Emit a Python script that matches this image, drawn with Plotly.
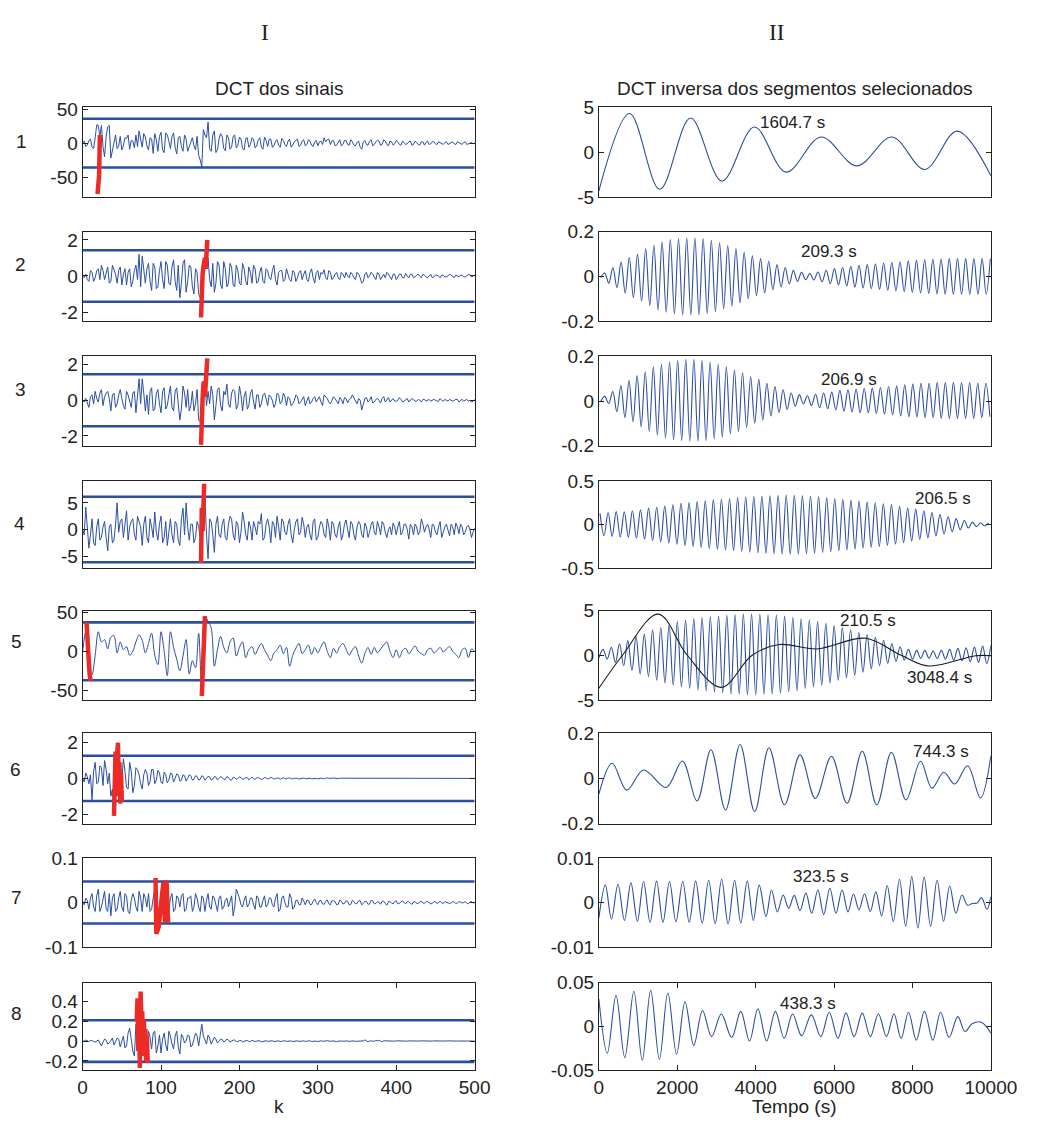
import plotly.graph_objects as go

# ======================= DATA =======================
# Left column: DCT coefficients.
# "_a" lists: samples at k = 0, 4, 8, ..., 500 ; "_b" lists: samples at k = 2, 6, ..., 498
dct1_a = [0, -5, 4, -6, 8, 26, 26, -20, 24, -22,
          5, -8, 10, -4, 7, -9, 3, 12, 18, -6,
          9, -10, 6, 14, -12, 16, -14, 12, -8, 15,
          -16, 10, -12, 6, -5, 8, -10, -18, -35, 12,
          31, -12, 18, -10, 14, -8, 12, -9, 10, -7,
          9, -8, 7, -6, 8, -7, 5, -6, 9, -5,
          6, -4, 5, -6, 4, -5, 6, -3, 4, -5,
          3, -4, 5, -3, 2, -4, 3, 8, 5, -2,
          4, -3, 5, -2, 4, -3, 2, -4, 3, -9,
          4, -3, 5, -2, 4, -3, 5, -2, 3, -3,
          4, -2, 3, -2, 2, -3, 3, -2, 2, -3,
          3, -1, 2, -2, 1, -2, 2, -1, 2, -2,
          1, -2, 2, -1, 1, 0]
dct1_b = [3, -3, 6, -8, 27, 10, -5, 10, 26, -10,
          12, -4, -10, 8, 12, 4, -7, -5, 6, 14,
          -4, 8, -15, 5, 10, -10, 15, 3, 10, -6,
          8, -5, 12, -12, 4, -4, 10, -25, 20, 8,
          -8, 12, -14, 6, 10, -11, 8, -6, 12, -3,
          6, -10, 8, -2, 6, -4, 8, -9, 4, 6,
          -6, 3, -3, 7, -2, 3, -6, 2, 6, -3,
          5, -2, 3, -5, 4, 2, -2, 2, 6, 3,
          -4, 2, -4, 4, -2, 5, -3, 1, -6, 2,
          -2, 3, -4, 2, 3, -2, 3, -4, 2, -1,
          2, -3, 1, -1, 3, -2, 1, -3, 2, 1,
          -2, 2, -1, 2, -1, 1, -2, 1, -1, 2,
          -1, 1, -2, 1, -1]
dct2_a = [0, 0.1, -0.3, 0.2, -0.1, 0.4, 0.6, -0.2, 0.5, -0.3,
          0.3, -0.4, 0.5, 0.1, -0.5, 0.4, -0.3, 0.6, 1.2, 1.1,
          -0.4, 0.7, -0.8, 0.5, -0.6, 0.8, -0.7, 0.6, -0.5, 0.9,
          -0.8, -1.2, 0.7, -0.9, 0.6, -0.6, 0.4, -1.0, -0.1, 0.5,
          1.0, -0.6, -0.9, 0.8, -0.5, 0.8, -0.6, 0.7, -0.5, 0.6,
          -0.4, 0.7, -0.3, 0.5, -0.4, 0.4, -0.3, 0.5, -0.4, 0.3,
          -0.2, 0.6, -0.5, 0.3, -0.3, 0.4, -0.2, 0.3, -0.3, 0.2,
          -0.2, 0.3, -0.3, 0.4, -0.4, 0.3, 0.2, 0.35, -0.2, 0.2,
          -0.1, 0.2, -0.2, 0.1, 0.2, -0.1, 0.1, -0.2, 0.1, -0.4,
          0.1, -0.1, 0.2, -0.1, 0.2, -0.2, 0.1, 0.2, -0.1, 0.1,
          -0.2, 0.1, -0.1, 0.15, -0.1, 0.1, -0.05, 0.1, -0.1, 0.05,
          -0.1, 0.1, -0.05, 0.05, -0.1, 0.05, -0.05, 0.1, -0.05, 0.05,
          -0.05, 0.05, -0.05, 0.1, -0.05, 0.05]
dct2_b = [-0.1, -0.2, 0.3, -0.3, 0.3, -0.2, 0.3, 0.1, -0.4, 0.6,
          0.1, 0.3, -0.5, 0.4, 0.2, -0.6, 0.3, -0.2, -0.6, 0.3,
          0.4, -0.3, 0.7, -0.7, 0.3, -0.2, 0.8, -0.4, 0.5, -0.3,
          0.6, -0.4, 0.9, -0.3, 0.5, -1.0, 0.2, -1.2, 0.4, 0.8,
          -0.2, 0.7, -0.4, 0.6, -0.7, 0.4, -0.4, 0.5, -0.6, 0.3,
          -0.5, 0.4, -0.5, 0.2, 0.6, -0.4, 0.2, -0.3, 0.4, -0.1,
          0.3, -0.2, 0.2, 0.3, -0.2, 0.1, -0.3, 0.2, -0.1, 0.3,
          0.1, -0.2, 0.2, -0.1, 0.2, -0.2, 0.1, -0.1, 0.3, -0.2,
          0.1, -0.1, 0.2, -0.1, 0.0, 0.2, -0.1, 0.2, -0.1, -0.3,
          0.2, 0.0, 0.1, -0.2, 0.1, 0.0, -0.1, 0.1, -0.2, 0.1,
          0.0, 0.1, -0.1, 0.0, 0.1, -0.1, 0.05, 0.0, 0.1, -0.05,
          0.0, -0.1, 0.05, 0.0, 0.05, -0.05, 0.0, 0.05, -0.1, 0.0,
          0.05, -0.05, 0.0, 0.05, 0.0]
dct3_a = [0, 0.1, -0.4, 0.3, 0.5, -0.1, 0.6, 0.2, 0.5, -0.6,
          0.4, -0.2, 0.6, -0.3, 0.5, 0.0, 0.4, -0.7, 1.2, 1.2,
          -0.6, -0.8, 0.7, -0.5, 0.6, -0.7, 0.7, -0.3, 0.8, -0.6,
          0.7, -1.1, 0.8, -0.4, -0.6, 0.5, -0.2, -1.1, 0.0, 1.0,
          0.5, 0.8, -1.1, 0.6, -0.3, 0.5, 0.9, -0.4, 0.6, -0.5,
          0.8, -0.6, 0.5, -0.3, 0.6, -0.5, 0.3, -0.2, 0.4, -0.3,
          0.2, -0.4, 0.4, -0.2, 0.4, -0.3, 0.1, -0.2, 0.3, -0.2,
          0.1, -0.3, 0.2, -0.1, 0.2, 0.05, -0.1, 0.3, 0.1, -0.2,
          0.2, -0.1, 0.15, -0.2, 0.1, 0.05, 0.3, -0.1, 0.1, -0.55,
          0.1, -0.1, 0.2, -0.1, 0.1, -0.15, 0.2, 0.0, -0.1, 0.1,
          -0.05, 0.15, -0.1, 0.05, -0.1, 0.1, -0.05, 0.05, -0.1, 0.05,
          0.0, -0.05, 0.05, -0.05, 0.1, -0.05, 0.0, 0.05, -0.05, 0.05,
          -0.1, 0.05, 0.0, -0.05, -0.1, 0.05]
dct3_b = [-0.1, -0.1, 0.2, -0.2, 0.1, 0.4, -0.3, 0.4, 0.1, 0.3,
          -0.4, 0.3, 0.1, -0.5, 0.3, -0.4, 0.5, 0.3, -0.2, 0.4,
          0.3, 0.5, -0.6, 0.4, -0.2, 0.5, -0.5, 0.3, -0.4, 0.5,
          -0.2, -0.5, 0.4, 0.6, -0.3, -0.6, 0.6, -1.2, 0.6, -0.3,
          -0.2, 0.3, -0.3, 0.7, -0.6, 0.3, -0.2, 0.4, 0.5, -0.3,
          0.3, 0.2, -0.5, 0.4, -0.1, 0.3, -0.4, 0.3, 0.1, 0.3,
          0.0, -0.2, 0.3, -0.1, 0.2, 0.2, -0.3, 0.0, 0.2, -0.1,
          0.2, 0.0, -0.2, 0.1, -0.1, 0.2, -0.3, 0.2, -0.1, 0.0,
          0.1, -0.2, 0.05, 0.15, -0.15, 0.1, 0.1, -0.2, 0.0, -0.2,
          0.15, 0.0, -0.15, 0.05, 0.0, 0.1, -0.1, 0.15, 0.0, -0.05,
          0.0, 0.05, -0.05, 0.1, 0.0, 0.05, -0.05, 0.0, 0.05, -0.05,
          0.05, 0.0, 0.0, -0.05, 0.0, 0.05, -0.05, 0.0, 0.0, 0.05,
          0.0, -0.05, 0.05, 0.0, -0.05]
dct4_a = [0, 4.2, -3.5, 2.0, -3.0, 2.0, -1.5, 1.5, -4.0, 1.0,
          -2.0, 5.0, 1.5, -1.5, 3.5, 0.5, 2.0, -2.0, 1.5, -3.0,
          2.5, -2.5, 0.5, 3.3, -2.0, 2.5, -1.5, -3.0, 2.0, -2.5,
          1.0, -3.0, 4.0, 5.0, -2.0, 1.0, -1.5, 0.5, -6.2, 6.0,
          -5.5, 1.5, -4.3, 2.5, -1.5, 2.0, -2.0, 2.5, -1.0, 1.5,
          -2.5, 3.3, -1.0, 1.5, -2.0, 0.5, 1.5, 3.0, -1.5, 2.0,
          -2.5, 1.0, 2.5, -2.0, 1.5, -1.0, 2.0, -2.5, 1.5, -1.0,
          2.3, -1.5, 1.0, -2.0, 2.0, -1.5, 1.5, -1.0, 2.0, -2.0,
          1.0, -1.5, 1.5, -1.0, 1.8, -1.5, 1.0, -2.0, 1.5, -1.0,
          1.2, -1.5, 1.0, -0.5, 1.5, -1.0, 1.0, -1.5, 0.5, 1.2,
          -1.0, 1.5, -0.5, 1.0, -1.8, 0.5, 1.0, -1.0, 2.0, -0.5,
          1.0, -1.5, 0.8, -1.0, 1.5, -0.5, 1.0, -1.2, 0.5, 1.2,
          -0.8, 0.5, -0.5, 0.8, -1.5, 0.3]
dct4_b = [-1.0, 1.0, -1.0, -2.5, 0.5, -2.0, 0.5, -1.5, 0.5, -2.5,
          1.0, -0.5, 2.0, 1.0, -2.0, 1.5, -1.0, 2.5, 0.5, 1.0,
          -1.5, 2.0, -1.5, -0.5, 1.0, -2.5, 1.5, -0.5, -1.0, 1.5,
          -2.0, 2.0, -1.0, 0.5, 1.0, -2.5, 1.5, -1.5, 3.0, -1.0,
          2.0, -1.0, 1.0, -1.0, 1.0, -1.5, 1.0, 2.0, -2.0, 1.0,
          -0.5, 1.5, -2.0, 0.5, 1.5, -1.0, 1.0, -2.0, 1.0, 0.5,
          1.5, -1.5, 0.5, 2.0, -0.5, 1.0, -1.0, 0.0, 2.0, -0.5,
          1.0, 0.5, -1.0, 1.5, -2.0, 0.5, 1.0, -1.5, 0.5, 1.5,
          -1.0, 0.5, -2.0, 1.0, 0.0, 1.5, -1.0, 0.5, 1.0, -1.5,
          0.5, -0.5, 1.5, -1.0, 0.5, 1.5, -0.5, 0.0, -1.0, 0.5,
          0.5, -1.0, 1.0, 0.0, 1.0, -1.0, 0.5, -0.5, 1.0, 0.5,
          0.0, 1.0, -0.5, 0.5, -1.5, 0.5, 0.0, 1.0, -1.0, 0.5,
          1.0, -1.0, 0.5, 0.0, -0.5]
# row 5 is a smoother signal: samples every 4 k
dct5 = [0, 25, -15, -30, -5, 25, 12, 15, 3, 18,
        20, -2, 12, 2, 6, -5, 0, 12, 21, 14,
        -2, 10, 23, -5, -17, 25, 0, -31, 25, 5,
        -10, -25, -6, 15, -29, -12, -21, 23, -57, 45,
        38, 30, -19, 2, 19, 5, -2, 12, 17, -6,
        5, 12, -8, 2, 6, -4, 4, 10, 2, -5,
        -12, -2, 2, 8, -3, 5, -19, -5, 4, 10,
        -3, 2, 8, -4, 5, -2, 6, 12, 0, -8,
        4, -2, 6, 10, 3, -5, 2, 6, -6, -15,
        -3, 5, -4, 5, -2, 3, 8, 12, 0, -8,
        2, -8, 1, 4, -3, 2, 7, 0, -3, -5,
        2, 4, -2, 1, 5, -1, 3, 6, 0, -4,
        -8, 2, 4, -8, 3, 0]
dct6_a = [0, 0.3, -0.3, -1.2, 0.9, -0.2, 0.6, 1.0, -0.3, -1.0,
          -2.1, 2.0, -1.4, 1.1, -0.5, 0.9, -0.8, 0.6, 0.2, -0.6,
          0.5, -0.4, 0.5, -0.3, 0.45, -0.2, 0.35, -0.25, 0.3, -0.2,
          0.25, -0.15, 0.2, -0.15, 0.2, -0.1, 0.15, -0.1, 0.15, -0.1,
          0.12, -0.1, 0.1, -0.08, 0.1, -0.05, 0.1, -0.08, 0.05, -0.05,
          0.08, -0.05, 0.05, -0.08, 0.06, -0.05, 0.04, -0.06, 0.05, -0.03,
          0.06, -0.04, 0.03, -0.05, 0.04, -0.03, 0.03, -0.04, 0.02, -0.03,
          0.04, -0.02, 0.03, -0.02, 0.02, -0.03, 0.02, -0.02, 0.03, -0.01,
          0.02, -0.02, 0.01, -0.02, 0.02, -0.01, 0.02, -0.01, 0.01, -0.02,
          0.01, -0.01, 0.02, -0.01, 0.01, -0.01, 0.01, 0.0, 0.01, -0.01,
          0.01, 0.0, -0.01, 0.01, 0.0, -0.01, 0.01, 0.0, 0.01, -0.01,
          0.0, 0.01, 0.0, -0.01, 0.01, 0.0, 0.01, 0.0, -0.01, 0.0,
          0.01, 0.0, 0.0, 0.01, 0.0, 0.0]
dct6_b = [-0.2, 0.1, 0.2, 0.4, -0.3, 0.7, -0.4, 0.5, 0.3, -0.6,
          1.5, 0.8, -0.3, 0.4, -0.6, 0.4, -0.4, 0.5, -0.3, 0.2,
          0.3, -0.2, 0.5, -0.1, 0.3, -0.3, 0.2, -0.1, 0.25, 0.0,
          0.2, -0.1, 0.15, 0.0, 0.15, -0.05, 0.1, -0.05, 0.1, 0.0,
          0.08, -0.05, 0.08, 0.0, 0.05, -0.05, 0.05, -0.1, 0.05, 0.0,
          0.05, -0.02, 0.04, 0.0, -0.02, 0.03, 0.0, -0.03, 0.02, 0.0,
          0.02, 0.0, 0.02, -0.02, 0.0, 0.02, -0.01, 0.01, 0.0, -0.01,
          0.02, 0.0, 0.01, -0.01, 0.0, 0.01, 0.0, 0.01, 0.0, 0.01,
          0.0, -0.01, 0.01, 0.0, 0.01, 0.0, 0.01, 0.0, 0.0, 0.01,
          0.0, 0.0, 0.01, 0.0, 0.0, 0.0, 0.01, 0.0, 0.0, 0.0,
          0.01, 0.0, 0.0, 0.0, 0.01, 0.0, 0.0, 0.0, 0.0, 0.01,
          0.0, 0.0, 0.0, 0.0, 0.0, 0.0, 0.01, 0.0, 0.0, 0.0,
          0.0, 0.0, 0.0, 0.0, 0.0]
dct7_a = [0, 0.01, -0.015, 0.02, -0.02, 0.03, -0.01, 0.025, -0.02, -0.03,
          0.02, -0.015, 0.025, -0.02, 0.015, -0.025, 0.02, -0.01, 0.025, -0.02,
          0.01, 0.02, -0.015, 0.03, -0.06, -0.03, 0.04, -0.045, 0.01, -0.02,
          0.015, -0.01, 0.02, -0.015, 0.01, -0.02, 0.02, -0.01, 0.015, -0.02,
          0.02, -0.015, 0.01, -0.02, 0.015, -0.01, 0.01, 0.0, -0.03, 0.03,
          0.01, -0.01, 0.015, -0.005, 0.01, -0.015, 0.01, -0.01, 0.015, -0.005,
          0.01, -0.01, 0.02, -0.015, 0.015, -0.01, 0.02, -0.015, 0.005, -0.005,
          0.01, -0.005, 0.005, -0.005, 0.008, -0.005, 0.005, -0.004, 0.006, -0.005,
          0.004, -0.005, 0.006, -0.003, 0.004, -0.005, 0.005, -0.003, 0.004, -0.005,
          0.003, -0.004, 0.005, -0.003, 0.002, -0.004, 0.003, -0.006, 0.002, -0.003,
          0.004, -0.002, 0.003, -0.003, 0.002, -0.004, 0.002, -0.002, 0.003, -0.002,
          0.002, -0.003, 0.002, -0.002, 0.003, -0.002, 0.001, -0.002, 0.002, -0.002,
          0.002, -0.001, 0.002, -0.003, 0.002, 0.0]
dct7_b = [-0.005, 0.005, 0.01, -0.01, 0.015, -0.02, 0.01, -0.015, 0.02, 0.01,
          -0.02, 0.01, -0.01, 0.02, -0.02, 0.005, 0.01, -0.02, 0.01, 0.02,
          -0.01, -0.02, 0.01, -0.07, -0.05, 0.03, 0.05, -0.02, 0.02, -0.015,
          0.01, 0.015, -0.02, 0.01, 0.015, -0.01, 0.01, -0.02, 0.01, 0.005,
          -0.01, 0.015, -0.005, 0.01, -0.015, 0.005, -0.01, 0.015, -0.01, 0.02,
          -0.005, 0.005, -0.01, 0.01, -0.005, 0.015, -0.01, 0.005, -0.01, 0.01,
          -0.005, 0.01, -0.02, 0.01, 0.0, -0.01, 0.01, -0.01, 0.005, -0.005,
          0.003, 0.005, -0.004, 0.003, 0.0, 0.004, -0.003, 0.002, -0.003, 0.004,
          0.002, -0.004, 0.003, -0.002, 0.003, -0.004, 0.002, -0.002, 0.004, -0.002,
          0.002, -0.003, 0.004, -0.002, 0.001, 0.003, -0.002, 0.002, -0.001, 0.002,
          -0.003, 0.002, 0.0, 0.002, -0.002, 0.001, -0.002, 0.001, -0.001, 0.002,
          0.0, -0.002, 0.001, 0.0, -0.001, 0.002, 0.0, -0.001, 0.001, -0.001,
          0.001, 0.0, -0.001, 0.001, -0.001]
dct8_a = [0, 0.01, -0.005, 0.005, -0.01, 0.01, -0.05, 0.02, -0.03, 0.01,
          -0.04, 0.03, -0.06, 0.05, -0.05, 0.13, -0.1, 0.17, -0.2, 0.3,
          -0.1, 0.1, -0.08, 0.1, -0.05, -0.12, 0.08, -0.1, 0.05, -0.08,
          0.1, -0.13, 0.04, 0.0, 0.05, -0.04, 0.08, -0.05, 0.17, 0.0,
          0.06, -0.03, 0.04, -0.02, 0.02, -0.01, 0.02, -0.01, 0.01, -0.005,
          0.005, -0.01, 0.005, -0.005, 0.008, -0.005, 0.005, -0.008, 0.005, -0.003,
          0.005, -0.005, 0.003, -0.005, 0.005, -0.003, 0.004, -0.005, 0.003, -0.004,
          0.005, -0.003, 0.004, -0.004, 0.003, -0.005, 0.003, -0.003, 0.004, -0.003,
          0.003, -0.004, 0.003, -0.002, 0.004, -0.003, 0.002, -0.003, 0.003, -0.002,
          0.012, -0.008, 0.003, -0.003, 0.002, -0.003, 0.003, -0.002, 0.002, -0.002,
          0.003, -0.002, 0.002, -0.003, 0.002, -0.002, 0.003, -0.002, 0.002, -0.002,
          0.002, -0.002, 0.002, -0.001, 0.002, -0.002, 0.002, -0.001, 0.002, -0.002,
          0.001, -0.002, 0.002, -0.001, 0.001, 0.0]
dct8_b = [0.0, 0.0, 0.005, -0.005, 0.0, -0.02, -0.01, 0.01, -0.02, 0.03,
          -0.01, 0.02, 0.0, -0.07, 0.08, 0.02, -0.15, 0.1, 0.2, 0.0,
          -0.15, 0.04, 0.08, -0.12, 0.06, 0.02, -0.04, 0.1, -0.03, 0.05,
          -0.06, 0.07, -0.02, 0.06, -0.06, 0.02, 0.05, 0.06, 0.05, -0.03,
          0.03, 0.0, 0.02, 0.0, 0.015, 0.0, 0.01, 0.0, 0.01, -0.005,
          0.005, 0.0, 0.005, -0.005, 0.005, 0.0, 0.003, -0.003, 0.004, 0.0,
          0.003, -0.002, 0.003, 0.0, 0.004, -0.003, 0.002, 0.0, 0.003, -0.002,
          0.002, 0.0, 0.003, -0.002, 0.0, 0.002, -0.002, 0.002, 0.0, 0.002,
          -0.002, 0.0, 0.002, -0.001, 0.002, 0.0, 0.002, -0.002, 0.0, 0.002,
          0.005, 0.002, 0.0, 0.008, 0.01, -0.004, 0.002, 0.0, 0.002, -0.001,
          0.002, 0.0, 0.002, -0.001, 0.001, 0.0, 0.002, 0.0, 0.001, -0.001,
          0.001, 0.0, 0.001, 0.0, 0.001, 0.0, 0.001, -0.001, 0.001, 0.0,
          0.001, 0.0, 0.001, -0.001, 0.0]

left_thresholds = [36, 1.43, 1.46, 6.15, 37, 1.27, 0.047, 0.21]

# Selected segments (red)
red1_k = [19, 20, 21, 22]
red1_v = [-75, -60, -48, 12]
red2_k = [151, 152, 153, 154, 155, 156, 157, 158, 159]
red2_v = [-2.3, -0.1, 0.1, 0.5, 1.0, 1.0, 0.4, 1.2, 2.0]
red3_k = [151, 152, 153, 154, 155, 156, 157, 158, 159]
red3_v = [-2.5, 0.0, 0.1, 0.9, 1.05, 0.2, 0.8, 1.6, 2.35]
red4_k = [151, 152, 153, 154, 155]
red4_v = [-6.3, 4.1, -0.3, 4.0, 8.6]
red5a_k = [5, 6, 7, 8, 9, 10, 11]
red5a_v = [37, 25, 5, -15, -30, -37, -35]
red5b_k = [152, 153, 154, 155, 156]
red5b_v = [-57, -28, 5, 35, 45]
red6_k = [40, 41, 42, 43, 44, 45, 46, 47, 48, 49, 50]
red6_v = [-2.1, 1.4, 1.5, -1.0, 1.9, 2.0, -0.5, 0.9, -1.4, 0.3, -1.3]
red7_k = [93, 94, 96, 97, 99, 101, 103, 105, 107, 109]
red7_v = [0.055, -0.07, -0.06, -0.055, -0.02, 0.03, 0.045, -0.045, 0.05, -0.045]
red8_k = [69, 70, 71, 72, 73, 74, 75, 76, 77, 78, 79, 80, 81, 82, 83]
red8_v = [0.2, 0.43, -0.1, 0.35, -0.27, 0.5, 0.1, 0.3, -0.15, 0.22, -0.05, 0.12, -0.2, 0.05, -0.22]

# Right column: inverse DCT of selected segments (extrema)
period_labels = ["1604.7 s", "209.3 s", "206.9 s", "206.5 s", "210.5 s", "744.3 s", "323.5 s", "438.3 s"]
black_label = "3048.4 s"

r1_t = [0, 785, 1554, 2339, 3140, 3967, 4777, 5669, 6579, 7479, 8314, 9140, 10000]
r1_v = [-4.3, 4.3, -4.1, 3.8, -3.2, 2.8, -2.2, 1.7, -1.5, 1.7, -1.9, 2.35, -2.6]

r2_period, r2_t0 = 209.3, 44
r2_troughs = [-0.005, -0.03, -0.05, -0.075, -0.095, -0.11, -0.13, -0.15, -0.16, -0.168,
              -0.172, -0.172, -0.172, -0.166, -0.158, -0.145, -0.132, -0.118, -0.1, -0.086,
              -0.074, -0.06, -0.047, -0.034, -0.022, -0.015, -0.016, -0.024, -0.032, -0.038,
              -0.043, -0.048, -0.052, -0.055, -0.058, -0.062, -0.065, -0.068, -0.071, -0.074,
              -0.076, -0.078, -0.08, -0.08, -0.08, -0.08, -0.08, -0.08]
r2_peaks = [0.015, 0.04, 0.065, 0.085, 0.10, 0.125, 0.14, 0.155, 0.165, 0.17,
            0.172, 0.172, 0.17, 0.162, 0.152, 0.138, 0.125, 0.108, 0.092, 0.08,
            0.068, 0.053, 0.04, 0.027, 0.018, 0.013, 0.02, 0.028, 0.035, 0.04,
            0.045, 0.05, 0.053, 0.057, 0.06, 0.063, 0.066, 0.07, 0.072, 0.075,
            0.077, 0.078, 0.08, 0.08, 0.08, 0.08, 0.08, 0.08]

r3_period, r3_t0 = 206.9, 45
r3_troughs = [-0.003, -0.011, -0.048, -0.074, -0.093, -0.115, -0.136, -0.152, -0.166, -0.174,
              -0.177, -0.18, -0.18, -0.177, -0.169, -0.162, -0.147, -0.136, -0.118, -0.099,
              -0.084, -0.067, -0.052, -0.037, -0.023, -0.012, -0.02, -0.03, -0.034, -0.04,
              -0.045, -0.049, -0.052, -0.052, -0.056, -0.059, -0.062, -0.067, -0.07, -0.071,
              -0.074, -0.074, -0.077, -0.078, -0.078, -0.078, -0.078, -0.074, -0.07]
r3_peaks = [0.021, 0.043, 0.07, 0.092, 0.114, 0.131, 0.153, 0.165, 0.175, 0.183,
            0.187, 0.187, 0.183, 0.175, 0.165, 0.153, 0.139, 0.127, 0.109, 0.097,
            0.08, 0.065, 0.051, 0.036, 0.029, 0.024, 0.032, 0.036, 0.04, 0.048,
            0.051, 0.054, 0.056, 0.058, 0.061, 0.065, 0.068, 0.073, 0.076, 0.08,
            0.08, 0.083, 0.083, 0.084, 0.083, 0.083, 0.08, 0.08]

r4_period, r4_t0 = 206.5, 30
r4_peaks = [0.13, 0.14, 0.15, 0.148, 0.16, 0.17, 0.19, 0.2, 0.215, 0.228,
            0.245, 0.255, 0.265, 0.275, 0.285, 0.292, 0.3, 0.31, 0.318, 0.322,
            0.328, 0.334, 0.338, 0.34, 0.338, 0.334, 0.328, 0.32, 0.31, 0.3,
            0.29, 0.282, 0.272, 0.262, 0.252, 0.242, 0.23, 0.212, 0.195, 0.178,
            0.16, 0.14, 0.118, 0.092, 0.07, 0.048, 0.03, 0.022, 0.018]
r4_troughs = [-0.125, -0.135, -0.14, -0.145, -0.155, -0.165, -0.18, -0.195, -0.21, -0.222,
              -0.238, -0.25, -0.26, -0.27, -0.28, -0.288, -0.296, -0.305, -0.314, -0.32,
              -0.326, -0.332, -0.336, -0.338, -0.336, -0.332, -0.326, -0.318, -0.308, -0.298,
              -0.288, -0.278, -0.268, -0.258, -0.248, -0.236, -0.222, -0.205, -0.186, -0.168,
              -0.15, -0.128, -0.105, -0.08, -0.058, -0.038, -0.022, -0.012]

r5_period, r5_t0 = 210.5, 2
r5_troughs = [-0.3, -0.44, -0.8, -1.17, -1.7, -2.1, -2.37, -2.8, -3.1, -3.36,
              -3.54, -3.72, -3.9, -4.0, -4.12, -4.2, -4.34, -4.38, -4.45, -4.45,
              -4.38, -4.34, -4.27, -4.12, -3.98, -3.72, -3.54, -3.36, -3.1, -2.8,
              -2.52, -2.26, -1.9, -1.53, -1.17, -0.91, -0.69, -0.55, -0.44, -0.37,
              -0.33, -0.37, -0.44, -0.55, -0.62, -0.73, -0.8, -0.91]
r5_peaks = [0.66, 0.9, 1.28, 1.64, 2.1, 2.37, 2.85, 3.1, 3.4, 3.76,
            3.94, 4.12, 4.23, 4.3, 4.38, 4.5, 4.56, 4.64, 4.64, 4.6,
            4.56, 4.5, 4.38, 4.23, 4.09, 3.94, 3.76, 3.58, 3.32, 3.1,
            2.85, 2.55, 2.3, 2.0, 1.68, 1.31, 0.95, 0.66, 0.55, 0.55,
            0.47, 0.55, 0.66, 0.77, 0.84, 0.91, 1.02, 1.1]
r5_black_t = [0, 603, 1512, 2256, 3124, 3909, 4612, 5562, 6802, 7711, 8413, 9612, 10000]
r5_black_v = [-3.7, 0.0, 4.6, 0.0, -3.6, 0.0, 1.2, 0.7, 1.9, 0.0, -1.2, -0.05, -0.05]

r6_t = [0, 339, 711, 1140, 1719, 2132, 2504, 2860, 3231, 3603, 3975, 4339, 4736, 5132,
        5521, 5934, 6331, 6719, 7091, 7463, 7835, 8207, 8496, 8802, 9074, 9405, 9736, 10000]
r6_v = [-0.07, 0.067, -0.052, 0.037, -0.04, 0.077, -0.1, 0.127, -0.14, 0.15, -0.147, 0.136, -0.117, 0.104,
        -0.089, 0.098, -0.11, 0.12, -0.117, 0.116, -0.095, 0.076, -0.043, 0.027, -0.025, 0.056, -0.087, 0.1]

r7_t = [0, 165, 322, 488, 653, 818, 983, 1140, 1306, 1471,
        1636, 1802, 1967, 2140, 2306, 2471, 2636, 2802, 2967, 3132,
        3297, 3463, 3620, 3785, 3942, 4091, 4264, 4405, 4554, 4702,
        4843, 4983, 5132, 5281, 5430, 5587, 5735, 5893, 6049, 6206,
        6355, 6496, 6636, 6777, 6925, 7066, 7215, 7355, 7512, 7669,
        7826, 7983, 8140, 8298, 8463, 8628, 8793, 8950, 9107, 9264,
        9405, 9529, 9653, 9760, 9901, 10000]
r7_v = [-0.0035, 0.0039, -0.0037, 0.0041, -0.004, 0.0044, -0.0042, 0.0047, -0.0044, 0.0048,
        -0.0044, 0.0047, -0.0043, 0.0047, -0.0044, 0.0048, -0.0046, 0.005, -0.0047, 0.0052,
        -0.0048, 0.005, -0.0046, 0.0048, -0.004, 0.0039, -0.0031, 0.0028, -0.0021, 0.0017,
        -0.0013, 0.0016, -0.0018, 0.0021, -0.0024, 0.0028, -0.0027, 0.0032, -0.0024, 0.0028,
        -0.0021, 0.0019, -0.0016, 0.0019, -0.002, 0.0024, -0.003, 0.0038, -0.0042, 0.0052,
        -0.0053, 0.0058, -0.0057, 0.0057, -0.0053, 0.005, -0.0042, 0.0037, -0.0024, 0.0017,
        -0.0006, -0.0002, -0.0001, 0.0011, -0.0015, 0.0013]

r8_t = [0, 215, 438, 661, 893, 1107, 1322, 1545, 1760, 1983,
        2198, 2421, 2645, 2876, 3124, 3388, 3620, 3843, 4058, 4281,
        4504, 4727, 4942, 5173, 5421, 5661, 5876, 6099, 6306, 6512,
        6719, 6925, 7132, 7338, 7528, 7710, 7900, 8099, 8306, 8520,
        8719, 8934, 9157, 9339, 9529, 9760, 10000]
r8_v = [0.031, -0.031, 0.035, -0.036, 0.04, -0.039, 0.041, -0.038, 0.038, -0.032,
        0.028, -0.022, 0.018, -0.012, 0.014, -0.013, 0.017, -0.017, 0.02, -0.017,
        0.017, -0.014, 0.014, -0.011, 0.013, -0.012, 0.016, -0.014, 0.015, -0.012,
        0.015, -0.012, 0.014, -0.012, 0.014, -0.014, 0.016, -0.016, 0.017, -0.016,
        0.016, -0.013, 0.011, -0.006, 0.003, 0.0045, -0.008]

# Axis ticks
left_yticks = [[-50, 0, 50], [-2, 0, 2], [-2, 0, 2], [-5, 0, 5], [-50, 0, 50],
               [-2, 0, 2], [-0.1, 0, 0.1], [-0.2, 0, 0.2, 0.4]]
right_yticks = [[-5, 0, 5], [-0.2, 0, 0.2], [-0.2, 0, 0.2], [-0.5, 0, 0.5], [-5, 0, 5],
                [-0.2, 0, 0.2], [-0.01, 0, 0.01], [-0.05, 0, 0.05]]
left_xticks = [0, 100, 200, 300, 400, 500]
right_xticks = [0, 2000, 4000, 6000, 8000, 10000]
row_labels = ["1", "2", "3", "4", "5", "6", "7", "8"]

# ======================= STYLE / LAYOUT =======================
W, H = 1045, 1126
FONT = "Arial, 'Liberation Sans', Helvetica, sans-serif"
SERIF = "'Times New Roman', 'Liberation Serif', serif"
BLUE = "#2b4ea2"
RED = "#ec2a26"
AX = "#222222"
TXT = "#222222"

rows_px = [(99, 191), (226, 317), (353, 444), (480, 569), (612, 703), (737, 829), (864, 955), (991, 1080)]
cols_px = [(80, 484), (612, 1016)]
left_yrange = [[-80, 53], [-2.5, 2.45], [-2.55, 2.46], [-7.3, 9.1], [-62, 52],
               [-2.53, 2.53], [-0.1, 0.1], [-0.29, 0.59]]
right_yrange = [[-5, 5], [-0.2, 0.2], [-0.2, 0.2], [-0.5, 0.5], [-5, 5],
                [-0.2, 0.2], [-0.01, 0.01], [-0.05, 0.05]]


def fmt(v):
    return "%g" % v


def interleave(first, second):
    out = []
    for i in range(max(len(first), len(second))):
        if i < len(first):
            out.append(first[i])
        if i < len(second):
            out.append(second[i])
    return out


def left_xy(r):
    if r == 4:
        return list(range(0, 4 * len(dct5), 4)), dct5
    a, b = [(dct1_a, dct1_b), (dct2_a, dct2_b), (dct3_a, dct3_b), (dct4_a, dct4_b), None,
            (dct6_a, dct6_b), (dct7_a, dct7_b), (dct8_a, dct8_b)][r]
    v = interleave(a, b)
    return list(range(0, 2 * len(v), 2)), v


red_sets = [[(red1_k, red1_v)], [(red2_k, red2_v)], [(red3_k, red3_v)], [(red4_k, red4_v)],
            [(red5a_k, red5a_v), (red5b_k, red5b_v)], [(red6_k, red6_v)], [(red7_k, red7_v)],
            [(red8_k, red8_v)]]

r2_v = interleave(r2_troughs, r2_peaks)
r3_v = interleave(r3_troughs, r3_peaks)
r4_v = interleave(r4_peaks, r4_troughs)
r5_v = interleave(r5_troughs, r5_peaks)
r2_t = [r2_t0 + j * r2_period / 2 for j in range(len(r2_v))]
r3_t = [r3_t0 + j * r3_period / 2 for j in range(len(r3_v))]
r4_t = [r4_t0 + j * r4_period / 2 for j in range(len(r4_v))]
r5_t = [r5_t0 + j * r5_period / 2 for j in range(len(r5_v))]
right_series = [(r1_t, r1_v), (r2_t, r2_v), (r3_t, r3_v), (r4_t, r4_v),
                (r5_t, r5_v), (r6_t, r6_v), (r7_t, r7_v), (r8_t, r8_v)]

fig = go.Figure()
layout = dict(width=W, height=H, margin=dict(l=0, r=0, t=0, b=0),
              paper_bgcolor="white", plot_bgcolor="white", showlegend=False,
              font=dict(family=FONT, size=19, color=TXT))
annotations = []

for r in range(8):
    for c in range(2):
        n = r * 2 + c + 1
        xs = "x" if n == 1 else "x%d" % n
        ys = "y" if n == 1 else "y%d" % n
        xk = "xaxis" if n == 1 else "xaxis%d" % n
        yk = "yaxis" if n == 1 else "yaxis%d" % n
        bottom = (r == 7)
        x0, x1 = cols_px[c]
        t0, t1 = rows_px[r]
        xticks = left_xticks if c == 0 else right_xticks
        layout[xk] = dict(domain=[x0 / W, x1 / W], range=[0, 500] if c == 0 else [0, 10000],
                          anchor=ys, showline=True, linecolor=AX, linewidth=1,
                          mirror="allticks" if bottom else True,
                          ticks="inside" if bottom else "", ticklen=5, tickcolor=AX,
                          showticklabels=bottom, tickvals=xticks,
                          ticktext=[fmt(v) for v in xticks],
                          tickfont=dict(size=19, family=FONT, color=TXT),
                          showgrid=False, zeroline=False, fixedrange=True)
        yt = left_yticks[r] if c == 0 else right_yticks[r]
        layout[yk] = dict(domain=[1 - t1 / H, 1 - t0 / H],
                          range=left_yrange[r] if c == 0 else right_yrange[r],
                          anchor=xs, showline=True, linecolor=AX, linewidth=1,
                          mirror="allticks", ticks="inside", ticklen=5, tickcolor=AX,
                          tickvals=yt, ticktext=[fmt(v) for v in yt],
                          tickfont=dict(size=19, family=FONT, color=TXT),
                          showgrid=False, zeroline=False, fixedrange=True)

        if c == 0:
            ks, vals = left_xy(r)
            fig.add_trace(go.Scatter(x=ks, y=vals, mode="lines", xaxis=xs, yaxis=ys,
                                     line=dict(color=BLUE, width=1.0,
                                               shape="spline" if r == 4 else "linear",
                                               smoothing=0.9)))
            thr = left_thresholds[r]
            for s in (1, -1):
                fig.add_trace(go.Scatter(x=[0, 500], y=[s * thr, s * thr], mode="lines",
                                         xaxis=xs, yaxis=ys,
                                         line=dict(color=BLUE, width=2.6)))
            for (rk, rv) in red_sets[r]:
                fig.add_trace(go.Scatter(x=rk, y=rv, mode="lines", xaxis=xs, yaxis=ys,
                                         line=dict(color=RED, width=4.5)))
        else:
            tt, vv = right_series[r]
            fig.add_trace(go.Scatter(x=tt, y=vv, mode="lines", xaxis=xs, yaxis=ys,
                                     line=dict(color=BLUE, width=1.1, shape="spline", smoothing=1)))
            if r == 4:
                fig.add_trace(go.Scatter(x=r5_black_t, y=r5_black_v, mode="lines", xaxis=xs, yaxis=ys,
                                         line=dict(color="#1a1a1a", width=1.1, shape="spline", smoothing=1)))

# period annotations (data coordinates)
ann_pos = [(4947, 3.26), (5863, 0.112), (6380, 0.096), (8780, 0.30),
           (6877, 3.87), (8737, 0.119), (5660, 0.00576), (5333, 0.026)]
for r in range(8):
    n = r * 2 + 2
    ax_, ay_ = ann_pos[r]
    annotations.append(dict(x=ax_, y=ay_, xref="x%d" % n, yref="y%d" % n, text=period_labels[r],
                            showarrow=False, font=dict(size=17, family=FONT, color=TXT),
                            xanchor="center", yanchor="middle"))
annotations.append(dict(x=8680, y=-2.47, xref="x10", yref="y10", text=black_label,
                        showarrow=False, font=dict(size=17, family=FONT, color=TXT),
                        xanchor="center", yanchor="middle"))

# row labels
row_lab_x = [17, 16, 16, 15, 12, 11, 12, 12]
row_lab_y = [134, 259, 387, 523, 643, 774, 904, 1023]
for i, lab in enumerate(row_labels):
    annotations.append(dict(x=row_lab_x[i] / W, y=1 - row_lab_y[i] / H, xref="paper", yref="paper",
                            text=lab, showarrow=False, font=dict(size=19, family=FONT, color=TXT),
                            xanchor="center", yanchor="middle"))

# column headings, titles and axis titles
annotations.append(dict(x=268 / W, y=1 - 23 / H, xref="paper", yref="paper", text="I", showarrow=False,
                        font=dict(size=23, family=SERIF, color=TXT), xanchor="center", yanchor="middle"))
annotations.append(dict(x=795 / W, y=1 - 23 / H, xref="paper", yref="paper", text="II", showarrow=False,
                        font=dict(size=23, family=SERIF, color=TXT), xanchor="center", yanchor="middle"))
annotations.append(dict(x=282 / W, y=1 - 80 / H, xref="paper", yref="paper", text="DCT dos sinais",
                        showarrow=False, font=dict(size=19, family=FONT, color=TXT),
                        xanchor="center", yanchor="middle"))
annotations.append(dict(x=814 / W, y=1 - 80 / H, xref="paper", yref="paper",
                        text="DCT inversa dos segmentos selecionados",
                        showarrow=False, font=dict(size=19, family=FONT, color=TXT),
                        xanchor="center", yanchor="middle"))
annotations.append(dict(x=282 / W, y=1 - 1105 / H, xref="paper", yref="paper", text="k",
                        showarrow=False, font=dict(size=19, family=FONT, color=TXT),
                        xanchor="center", yanchor="top"))
annotations.append(dict(x=813 / W, y=1 - 1105 / H, xref="paper", yref="paper", text="Tempo (s)",
                        showarrow=False, font=dict(size=19, family=FONT, color=TXT),
                        xanchor="center", yanchor="top"))

layout["annotations"] = annotations
fig.update_layout(**layout)
fig.write_html("out.html")
